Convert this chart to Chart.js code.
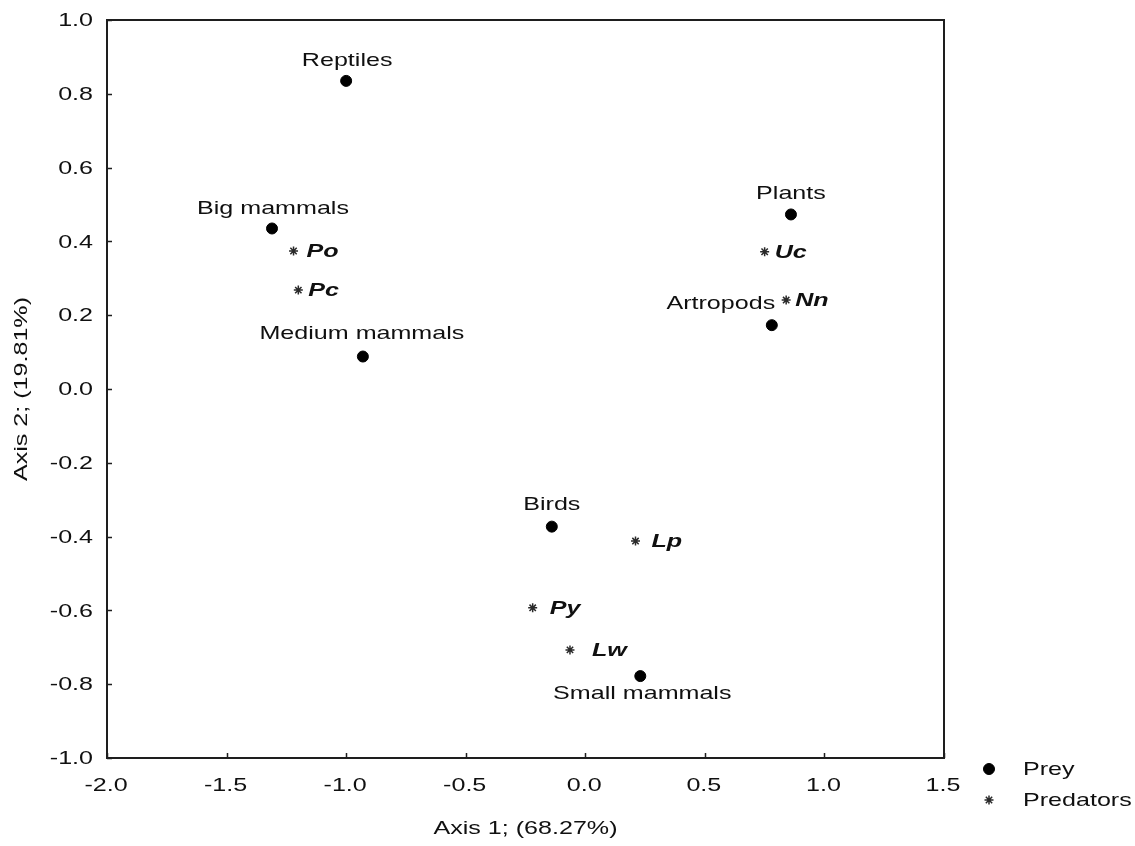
<!DOCTYPE html>
<html>
<head>
<meta charset="utf-8">
<script src="https://cdn.jsdelivr.net/npm/chart.js@4.4.1/dist/chart.umd.min.js"></script>
<style>
  html, body { margin: 0; padding: 0; background: #fff; }
</style>
</head>
<body>
<canvas id="ordChart" width="1135" height="846"></canvas>
<script>
// Correspondence analysis scores
const preyNames = ['Reptiles', 'Big mammals', 'Medium mammals', 'Plants', 'Artropods', 'Birds', 'Small mammals'];
const preyAxis1 = [-1.00, -1.31, -0.93, 0.86, 0.78, -0.14, 0.23];
const preyAxis2 = [0.835, 0.435, 0.088, 0.473, 0.173, -0.373, -0.778];

const predatorNames = ['Po', 'Pc', 'Uc', 'Nn', 'Lp', 'Py', 'Lw'];
const predatorAxis1 = [-1.22, -1.20, 0.75, 0.84, 0.21, -0.22, -0.064];
const predatorAxis2 = [0.374, 0.268, 0.372, 0.241, -0.412, -0.593, -0.707];

const xTicks = [-2.0, -1.5, -1.0, -0.5, 0.0, 0.5, 1.0, 1.5];
const yTicks = [-1.0, -0.8, -0.6, -0.4, -0.2, 0.0, 0.2, 0.4, 0.6, 0.8, 1.0];

const xTitle = 'Axis 1; (68.27%)';
const yTitle = 'Axis 2; (19.81%)';

const FONT = '"Liberation Sans", Arial, sans-serif';
const TEXT_FONT = '19px ' + FONT;
const TAG_FONT = 'italic bold 19px ' + FONT;
const INK = '#101010';
const STRETCH = 1.32; // the original figure is widened along the text

const toPoints = (xs, ys) => xs.map((x, i) => ({ x: x, y: ys[i] }));

// label nudges (pixels) relative to each marker
const preyNudge = [[1, -20], [1, -20], [-1, -23], [0, -21], [-51, -21], [0, -22], [2, 18]];
const predNudge = [13, 10, 10, 9, 16, 17, 22];

function wideText(ctx, text, x, y, align, font, rotated) {
  ctx.save();
  ctx.translate(x, y);
  if (rotated) ctx.rotate(-Math.PI / 2);
  ctx.scale(STRETCH, 1);
  ctx.font = font;
  ctx.fillStyle = INK;
  ctx.textAlign = align;
  ctx.textBaseline = 'middle';
  ctx.fillText(text, 0, 0);
  ctx.restore();
}

const framePlugin = {
  id: 'frameAndLabels',
  afterDatasetsDraw(chart) {
    const ctx = chart.ctx;
    const area = chart.chartArea;
    const xs = chart.scales.x;
    const ys = chart.scales.y;
    ctx.save();

    // frame
    ctx.strokeStyle = '#1e1e1e';
    ctx.lineWidth = 2;
    ctx.strokeRect(area.left, area.top, area.right - area.left, area.bottom - area.top);

    // inward tick marks on bottom and left
    ctx.lineWidth = 1.5;
    ctx.beginPath();
    xs.ticks.forEach(t => {
      const px = Math.round(xs.getPixelForValue(t.value)) + 0.5;
      ctx.moveTo(px, area.bottom);
      ctx.lineTo(px, area.bottom - 5);
    });
    ys.ticks.forEach(t => {
      const py = Math.round(ys.getPixelForValue(t.value)) + 0.5;
      ctx.moveTo(area.left, py);
      ctx.lineTo(area.left + 5, py);
    });
    ctx.stroke();

    // tick labels
    xs.ticks.forEach(t => {
      wideText(ctx, t.value.toFixed(1), xs.getPixelForValue(t.value) - 1, area.bottom + 28, 'center', TEXT_FONT);
    });
    ys.ticks.forEach(t => {
      wideText(ctx, t.value.toFixed(1), area.left - 14, ys.getPixelForValue(t.value) + 1, 'right', TEXT_FONT);
    });

    // axis titles
    wideText(ctx, xTitle, (area.left + area.right) / 2, area.bottom + 71, 'center', TEXT_FONT);
    wideText(ctx, yTitle, 22, (area.top + area.bottom) / 2, 'center', TEXT_FONT, true);

    // prey labels
    chart.getDatasetMeta(0).data.forEach((pt, i) => {
      wideText(ctx, preyNames[i], pt.x + preyNudge[i][0], pt.y + preyNudge[i][1], 'center', TEXT_FONT);
    });

    // predator labels
    chart.getDatasetMeta(1).data.forEach((pt, i) => {
      wideText(ctx, predatorNames[i], pt.x + predNudge[i], pt.y + 1, 'left', TAG_FONT);
    });

    // legend, outside the plot at lower right
    const lx = area.right + 45;
    const rows = [area.bottom + 11, area.bottom + 42];
    chart.data.datasets.forEach((ds, i) => {
      ctx.fillStyle = ds.pointBackgroundColor;
      ctx.strokeStyle = ds.pointBorderColor;
      ctx.lineWidth = ds.pointBorderWidth;
      Chart.helpers.drawPoint(ctx, {
        pointStyle: ds.pointStyle,
        radius: ds.pointRadius,
        rotation: 0,
        borderWidth: ds.pointBorderWidth
      }, lx, rows[i]);
      wideText(ctx, ds.label, lx + 34, rows[i] + 1, 'left', TEXT_FONT);
    });

    ctx.restore();
  }
};

new Chart(document.getElementById('ordChart'), {
  type: 'scatter',
  data: {
    datasets: [
      {
        label: 'Prey',
        data: toPoints(preyAxis1, preyAxis2),
        pointStyle: 'circle',
        pointRadius: 5.5,
        pointBackgroundColor: '#000',
        pointBorderColor: '#000',
        pointBorderWidth: 1
      },
      {
        label: 'Predators',
        data: toPoints(predatorAxis1, predatorAxis2),
        pointStyle: 'star',
        pointRadius: 4.5,
        pointBackgroundColor: '#2a2a2a',
        pointBorderColor: '#2a2a2a',
        pointBorderWidth: 1.5
      }
    ]
  },
  options: {
    responsive: false,
    animation: false,
    layout: { padding: { left: 0, right: 191, top: 20, bottom: 0 } },
    plugins: {
      legend: { display: false },
      tooltip: { enabled: false }
    },
    scales: {
      x: {
        type: 'linear',
        min: -2.0,
        max: 1.5,
        afterBuildTicks: s => { s.ticks = xTicks.map(v => ({ value: v })); },
        afterFit: s => { s.height = 88; s.paddingLeft = 0; s.paddingRight = 0; },
        grid: { display: false, drawTicks: false },
        border: { display: false },
        ticks: { display: false },
        title: { display: false }
      },
      y: {
        type: 'linear',
        min: -1.0,
        max: 1.0,
        afterBuildTicks: s => { s.ticks = yTicks.map(v => ({ value: v })); },
        afterFit: s => { s.width = 107; s.paddingTop = 0; s.paddingBottom = 0; },
        grid: { display: false, drawTicks: false },
        border: { display: false },
        ticks: { display: false },
        title: { display: false }
      }
    }
  },
  plugins: [framePlugin]
});
</script>
</body>
</html>
